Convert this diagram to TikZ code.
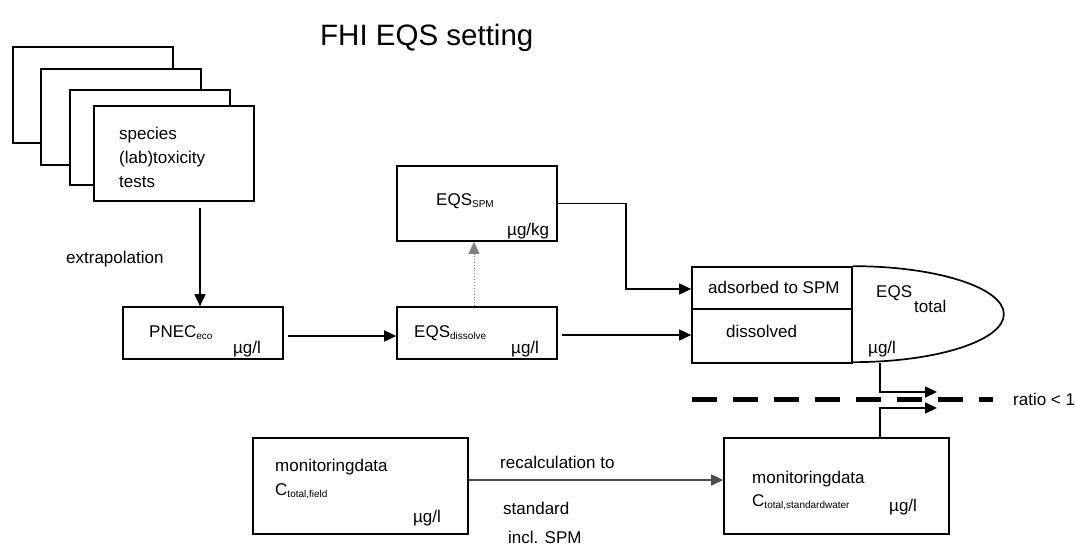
\documentclass[tikz,border=0pt]{standalone}
\usepackage{fontspec}
\setmainfont{Liberation Sans}
\usetikzlibrary{arrows.meta,calc}
\newcommand{\sbs}[1]{\raisebox{-2pt}{\fontsize{10}{10}\selectfont #1}}
\begin{document}
\begin{tikzpicture}[x=1pt,y=-1pt,
  font=\fontsize{17}{20}\selectfont,
  box/.style={draw,line width=1.7pt,fill=white,inner sep=0pt},
  lbl/.style={anchor=base west,inner sep=0pt},
  arr/.style={line width=1.7pt,-{Triangle[length=12pt,width=11pt]}},
  ln/.style={line width=1.7pt}
]
\useasboundingbox (0,0) rectangle (1075,547);
% title
\node[lbl,font=\fontsize{29.5}{32}\selectfont] (title) at (320,45) {FHI EQS setting};
% stack of test boxes
\node[box,minimum width=160pt,minimum height=96pt] (b1) at (93,95) {};
\node[box,minimum width=160pt,minimum height=96pt] (b2) at (121,117) {};
\node[box,minimum width=160pt,minimum height=95pt] (b3) at (150,137.5) {};
\node[box,minimum width=160pt,minimum height=95pt] (b4) at (174,153.5) {};
\node[lbl] (t1) at (119,139) {species};
\node[lbl] (t2) at (119,163) {(lab)toxicity};
\node[lbl] (t3) at (119,187) {tests};
\node[lbl] (extra) at (66,263) {extrapolation};
% PNEC
\node[box,minimum width=160pt,minimum height=52pt] (pnec) at (203,333) {};
\node[lbl] (pnect) at (149,337) {PNEC\sbs{eco}};
\node[lbl] (pnecu) at (233,353) {µg/l};
% EQS dissolve
\node[box,minimum width=160pt,minimum height=52pt] (eqsd) at (477,333) {};
\node[lbl] (eqsdt) at (414,337) {EQS\sbs{dissolve}};
\node[lbl] (eqsdu) at (511,353) {µg/l};
% EQS SPM
\node[box,minimum width=160pt,minimum height=75pt] (spm) at (477,203.5) {};
\node[lbl] (spmt) at (436,205) {EQS\sbs{SPM}};
\node[lbl] (spmu) at (507,235) {µg/kg};
% composite EQS total
\node[box,minimum width=160pt,minimum height=96pt] (comp) at (772,315) {};
\draw[ln] (comp.west |- 0,309) -- (comp.east |- 0,309);
\draw[ln] (comp.north east) arc[start angle=90,end angle=-90,x radius=151pt,y radius=48pt];
\node[lbl] (ads) at (708,293) {adsorbed to SPM};
\node[lbl] (dis) at (726,337) {dissolved};
\node[lbl] (eqst) at (876,297) {EQS};
\node[lbl] (eqstt) at (914,312) {total};
\node[lbl] (eqstu) at (868,353) {µg/l};
% monitoring boxes
\node[box,minimum width=215pt,minimum height=96pt] (mon1) at (360.5,486) {};
\node[lbl] (m1a) at (275,471) {monitoringdata};
\node[lbl] (m1b) at (275,495) {C\sbs{total,field}};
\node[lbl] (m1u) at (413,522) {µg/l};
\node[box,minimum width=225pt,minimum height=96pt] (mon2) at (836.5,486) {};
\node[lbl] (m2a) at (752,483) {monitoringdata};
\node[lbl] (m2b) at (752,506) {C\sbs{total,standardwater}};
\node[lbl] (m2u) at (889,511) {µg/l};
\node[lbl] (rc1) at (500,468) {recalculation to};
\node[lbl] (rc2) at (503,514) {standard};
\node[lbl] (rc3) at (508,543) {incl. SPM};
% ratio line
\coordinate (d1) at (692,399);
\coordinate (d2) at (993,399);
\draw[line width=5pt,dash pattern=on 25pt off 16pt] (d1) -- (d2);
\node[lbl,anchor=west] (ratio) at (1013,399) {ratio < 1};
% connectors
\coordinate (ax) at (200,0);
\draw[arr,shorten <=6pt] (b4.south -| ax) -- (pnec.north -| ax);
\coordinate (y1) at (0,336);
\draw[arr,shorten <=4pt] (pnec.east |- y1) -- (eqsd.west |- y1);
\coordinate (dx) at (474,0);
\draw[line width=0.9pt,gray,dotted,-{Triangle[length=12pt,width=11pt]}] (eqsd.north -| dx) -- (spm.south -| dx);
\coordinate (y2) at (0,289);
\draw[arr] (spm.east) -- ++(68,0) |- (comp.west |- y2);
\coordinate (y3) at (0,335);
\draw[arr,shorten <=4pt] (eqsd.east |- y3) -- (comp.west |- y3);
\coordinate (tb) at (880,363);
\coordinate (r1) at (937,392);
\coordinate (mt) at (880,438);
\coordinate (r2) at (937,408);
\draw[arr] (tb) |- (r1);
\draw[arr] (mt) |- (r2);
\coordinate (y4) at (0,480);
\draw[line width=1.7pt,black!70,-{Triangle[length=12pt,width=11pt]}] (mon1.east |- y4) -- (mon2.west |- y4);
\end{tikzpicture}
\end{document}
